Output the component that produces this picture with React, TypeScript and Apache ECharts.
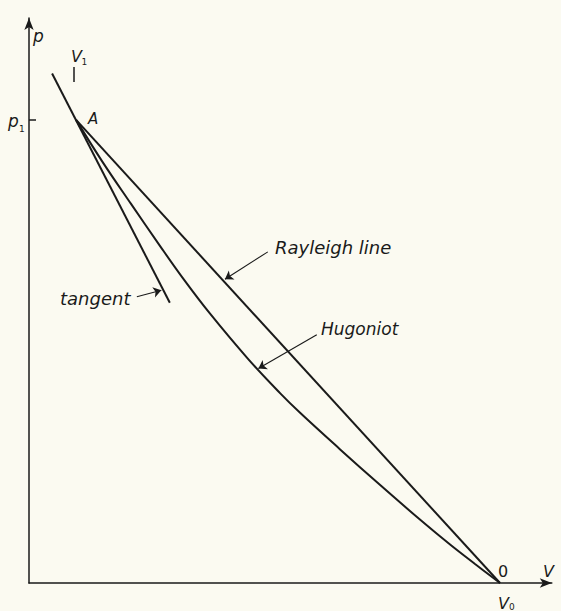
import React, { useEffect, useRef } from "react";
import * as echarts from "echarts";

// Rayleigh line: from state 1 (V1, p1) to state 0 (V0, 0)
const rayleighV = [0.1, 1.0];
const rayleighP = [1.0, 0.0];

// Hugoniot curve through A and 0
const hugoniotV = [0.1, 0.155, 0.217, 0.278, 0.329, 0.384, 0.465, 0.533, 0.575, 0.66, 0.745, 0.83, 0.894, 0.947, 1.0];
const hugoniotP = [1.0, 0.911, 0.818, 0.728, 0.655, 0.582, 0.484, 0.41, 0.368, 0.289, 0.212, 0.137, 0.083, 0.041, 0.0];

// Tangent at A
const tangentV = [0.049, 0.299];
const tangentP = [1.1, 0.605];

// Annotation arrows (from label to curve)
const arrowFromV = [0.507, 0.229, 0.611];
const arrowFromP = [0.715, 0.618, 0.536];
const arrowToV = [0.416, 0.281, 0.487];
const arrowToP = [0.656, 0.632, 0.463];

// V1 marker
const v1MarkV = [0.0955, 0.0955];
const v1MarkP = [1.114, 1.082];

const pTicks = [1];

const INK = "#1a1a1a";
const FONT = '"DejaVu Sans", "Liberation Sans", sans-serif';

const zip = (a: number[], b: number[]) => a.map((v, i) => [v, b[i]]);

export default function App() {
  const ref = useRef<HTMLDivElement>(null);
  useEffect(() => {
    if (!ref.current) return;
    const chart = echarts.init(ref.current, null, { renderer: "svg" });
    const txt = (text: string, x: number, y: number, size: number, italic = true) => ({
      type: "text",
      x,
      y,
      style: {
        text,
        fill: INK,
        fontSize: size,
        fontFamily: FONT,
        fontStyle: italic ? "italic" : "normal",
        align: "left",
        verticalAlign: "middle",
      },
      silent: true,
    });
    const lineStyle = { color: INK, width: 2 };
    chart.setOption({
      animation: false,
      backgroundColor: "#fbfaf1",
      grid: { left: 29, right: 9.2, top: 18, bottom: 28, containLabel: false },
      xAxis: {
        type: "value",
        min: 0,
        max: 1.11,
        axisLine: {
          show: true,
          symbol: ["none", "arrow"],
          symbolSize: [7, 12],
          lineStyle: { color: INK, width: 1.5 },
        },
        axisTick: { show: false },
        axisLabel: { show: false },
        splitLine: { show: false },
      },
      yAxis: {
        type: "value",
        min: 0,
        max: 1.22,
        axisLine: {
          show: true,
          symbol: ["none", "arrow"],
          symbolSize: [7, 12],
          lineStyle: { color: INK, width: 1.5 },
        },
        axisTick: {
          show: true,
          inside: true,
          length: 7,
          customValues: pTicks,
          lineStyle: { color: INK, width: 1.5 },
        },
        axisLabel: { show: false },
        splitLine: { show: false },
      },
      series: [
        {
          name: "Rayleigh line",
          type: "line",
          data: zip(rayleighV, rayleighP),
          showSymbol: false,
          lineStyle,
          silent: true,
        },
        {
          name: "Hugoniot",
          type: "line",
          data: zip(hugoniotV, hugoniotP),
          smooth: 0.4,
          showSymbol: false,
          lineStyle,
          silent: true,
        },
        {
          name: "tangent",
          type: "line",
          data: zip(tangentV, tangentP),
          showSymbol: false,
          lineStyle,
          silent: true,
        },
        {
          name: "arrows",
          type: "lines",
          coordinateSystem: "cartesian2d",
          symbol: ["none", "arrow"],
          symbolSize: 8,
          lineStyle: { color: INK, width: 1.1, opacity: 1 },
          data: arrowFromV.map((v, i) => ({
            coords: [
              [v, arrowFromP[i]],
              [arrowToV[i], arrowToP[i]],
            ],
          })),
          silent: true,
        },
        {
          name: "V1 mark",
          type: "lines",
          coordinateSystem: "cartesian2d",
          symbol: ["none", "none"],
          lineStyle: { color: INK, width: 1.5, opacity: 1 },
          data: [{ coords: zip(v1MarkV, v1MarkP) }],
          silent: true,
        },
      ],
      graphic: [
        txt("p", 33, 36, 17),
        txt("V", 71, 56, 16),
        txt("1", 81.5, 62, 9, false),
        txt("p", 8, 121, 17),
        txt("1", 19, 129, 9, false),
        txt("A", 88, 118.5, 15),
        txt("Rayleigh line", 275, 247.7, 18),
        txt("tangent", 60, 298.7, 18),
        txt("Hugoniot", 321, 329, 17),
        txt("0", 498, 571.4, 16, false),
        txt("V", 543, 571.4, 16),
        txt("V", 498, 603, 16),
        txt("0", 509, 607, 9, false),
      ],
    });
    return () => chart.dispose();
  }, []);
  return (
    <div
      ref={ref}
      style={{ position: "fixed", left: 0, top: 0, width: 561, height: 611 }}
    />
  );
}
